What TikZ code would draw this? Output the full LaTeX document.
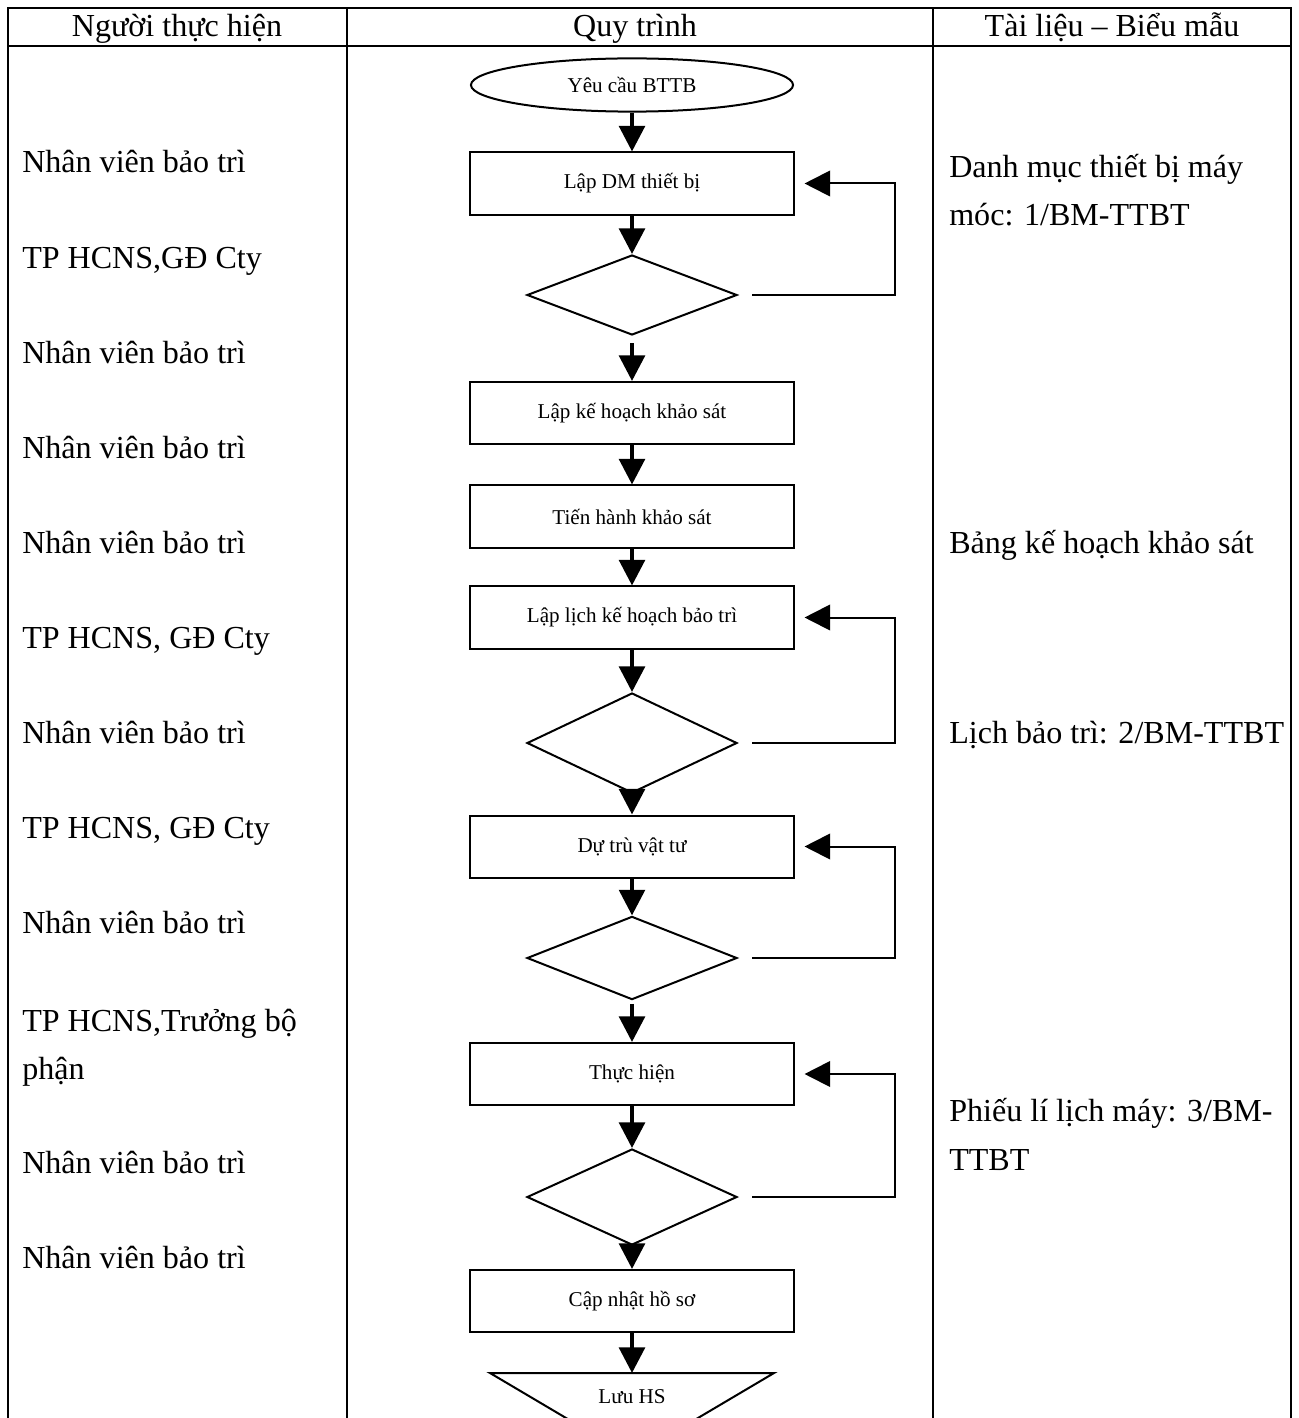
\documentclass[tikz,border=0pt]{standalone}
\usepackage{fontspec}
\setmainfont{Liberation Serif}
\usetikzlibrary{shapes.geometric, arrows.meta, positioning, calc}

\begin{document}
\begin{tikzpicture}[x=0.025cm, y=-0.025cm,
    every node/.style={inner sep=0pt},
    >={Triangle[length=0.64cm, width=0.64cm]},
    col/.style={font=\fontsize{22.8}{27}\selectfont},
    who/.style={col, anchor=base west},
    proc/.style={draw, line width=0.05cm, minimum width=8.075cm, minimum height=1.55cm, font=\fontsize{15}{18}\selectfont},
    startbox/.style={ellipse, draw, line width=0.05cm, minimum width=8.05cm, minimum height=1.33cm, font=\fontsize{15}{18}\selectfont},
    check/.style={diamond, draw, line width=0.05cm, minimum width=5.25cm},
    flow/.style={->, line width=0.1cm},
    back/.style={->, line width=0.05cm, shorten <=0.35cm, shorten >=0.25cm},
    tbl/.style={line width=0.05cm}]
\useasboundingbox (0,0) rectangle (1299,1418);
\clip (0,0) rectangle (1299,1418);

% Table frame
\draw[tbl] (8,1418) -- (8,8) -- (1291,8) -- (1291,1418);
\draw[tbl] (8,46) -- (1291,46);
\draw[tbl] (347,8) -- (347,1418);
\draw[tbl] (933,8) -- (933,1418);

% Header
\node[col, anchor=base] (hwho) at (177,37) {Người thực hiện};
\node[col, anchor=base] (hflow) at (635,37) {Quy trình};
\node[col, anchor=base] (hdoc) at (1112,37) {Tài liệu – Biểu mẫu};

% Left column
\foreach \y/\t [count=\i] in {173/Nhân viên bảo trì, 268/{TP HCNS,GĐ Cty}, 363/Nhân viên bảo trì,
    458/Nhân viên bảo trì, 553/Nhân viên bảo trì, 648/{TP HCNS, GĐ Cty}, 743/Nhân viên bảo trì,
    838/{TP HCNS, GĐ Cty}, 933/Nhân viên bảo trì, 1031/{TP HCNS,Trưởng bộ}, 1079/phận,
    1173/Nhân viên bảo trì, 1268/Nhân viên bảo trì} {
    \node[who] (who\i) at (22,\y) {\t};
}

% Right column
\foreach \y/\t [count=\i] in {178/Danh mục thiết bị máy, 226/{móc: 1/BM-TTBT}, 553/Bảng kế hoạch khảo sát,
    743/{Lịch bảo trì: 2/BM-TTBT}, 1121/{Phiếu lí lịch máy: 3/BM-}, 1170/TTBT} {
    \node[who] (doc\i) at (949,\y) {\t};
}

% Process
\node[startbox] (start) at (632,85) {Yêu cầu BTTB};
\node[proc] (b1) at (632,183.5) {Lập DM thiết bị};
\node[check, minimum height=2cm] (d1) at (632,295) {};
\node[proc] (b2) at (632,413) {Lập kế hoạch khảo sát};
\node[proc] (b3) at (632,516.5) {Tiến hành khảo sát};
\node[proc] (b4) at (632,617.5) {Lập lịch kế hoạch bảo trì};
\node[check, minimum height=2.5cm] (d2) at (632,743) {};
\node[proc] (b5) at (632,846.5) {Dự trù vật tư};
\node[check, minimum height=2.08cm] (d3) at (632,958) {};
\node[proc] (b6) at (632,1074) {Thực hiện};
\node[check, minimum height=2.4cm] (d4) at (632,1197) {};
\node[proc] (b7) at (632,1301) {Cập nhật hồ sơ};
\coordinate (store) at (632,1373);
\draw[line width=0.05cm] (store) -- ++(-142,0) -- ++(142,84) -- ++(142,-84) -- cycle;
\node[anchor=base, font=\fontsize{15}{18}\selectfont] (lhs) at (632,1403) {Lưu HS};

% Arrows down
\draw[flow] (start) -- (b1);
\draw[flow] (b1) -- (d1);
\draw[flow, shorten <=0.18cm] (d1) -- (b2);
\draw[flow] (b2) -- (b3);
\draw[flow] (b3) -- (b4);
\draw[flow] (b4) -- (d2);
\draw[flow, shorten <=-0.33cm] (d2) -- (b5);
\draw[flow] (b5) -- (d3);
\draw[flow, shorten <=0.08cm] (d3) -- (b6);
\draw[flow] (b6) -- (d4);
\draw[flow, shorten <=-0.35cm] (d4) -- (b7);
\draw[flow] (b7) -- (store);

% Loops back
\coordinate (loopx) at (895,0);
\foreach \d/\b in {d1/b1, d2/b4, d3/b5, d4/b6} {
    \draw[back] (\d.east) -- (\d.east -| loopx) |- (\b.east);
}
\end{tikzpicture}
\end{document}
